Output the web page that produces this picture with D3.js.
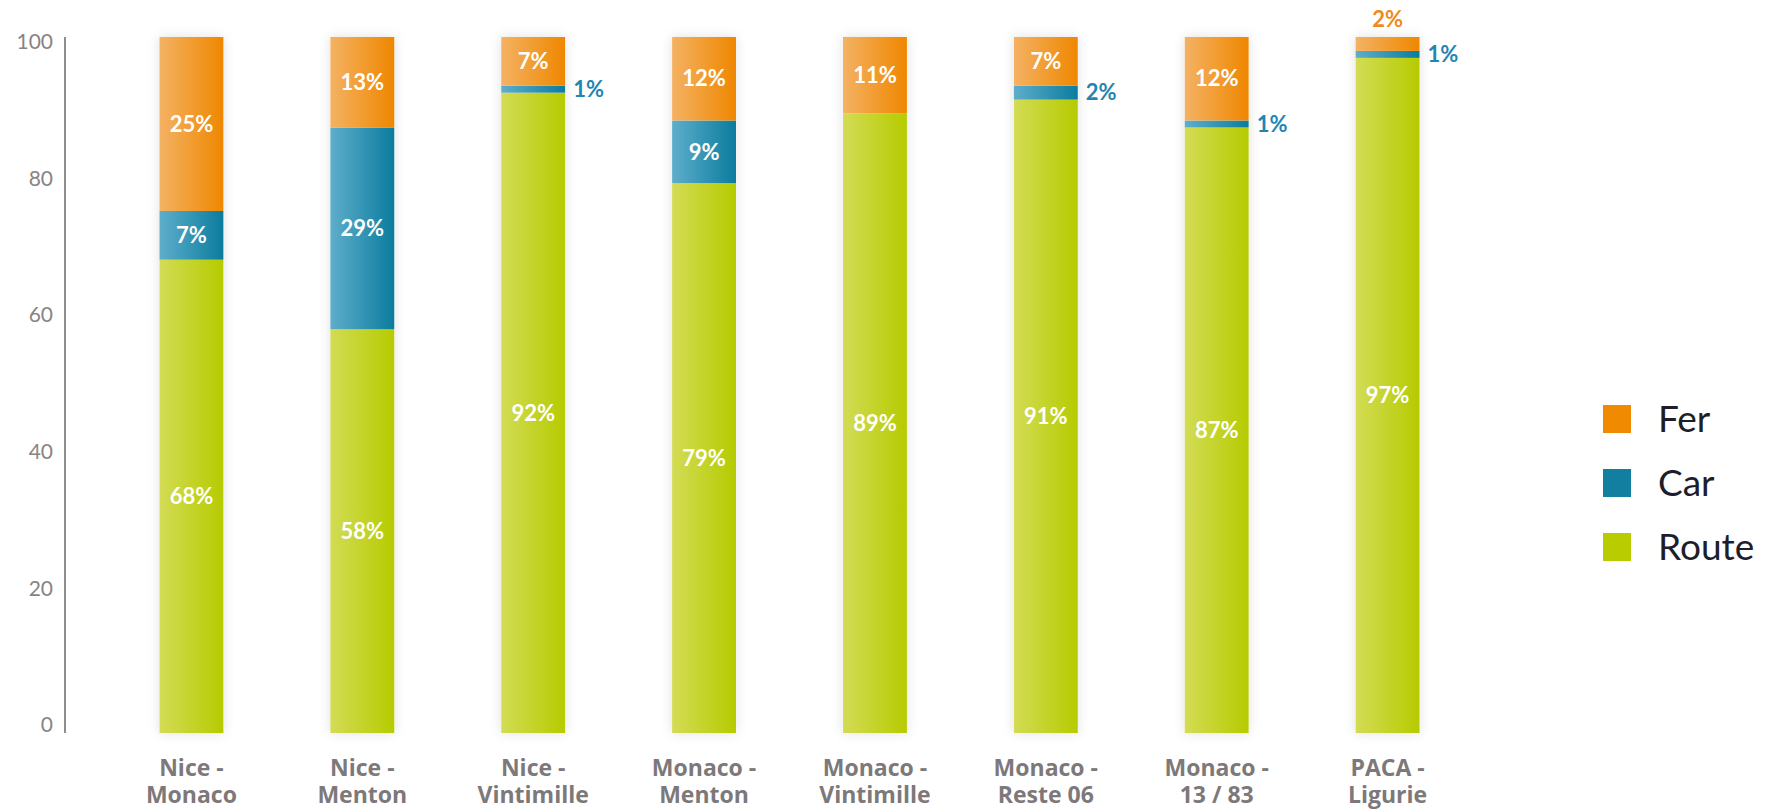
<!DOCTYPE html>
<html>
<head>
<meta charset="utf-8">
<script src="https://cdn.jsdelivr.net/npm/d3@7"></script>
<style>
  body { margin: 0; background: #fff; }
  svg { display: block; }
</style>
</head>
<body>
<div id="chart"></div>
<script>
// categories, one line pair per bar
var categories = ['Nice - Monaco', 'Nice - Menton', 'Nice - Vintimille', 'Monaco - Menton',
    'Monaco - Vintimille', 'Monaco - Reste 06', 'Monaco - 13 / 83', 'PACA - Ligurie'];
var labelLines = [['Nice -', 'Monaco'], ['Nice -', 'Menton'], ['Nice -', 'Vintimille'], ['Monaco -', 'Menton'],
    ['Monaco -', 'Vintimille'], ['Monaco -', 'Reste 06'], ['Monaco -', '13 / 83'], ['PACA -', 'Ligurie']];

// series values (%)
var route = [68, 58, 92, 79, 89, 91, 87, 97];
var car   = [7, 29, 1, 9, 0, 2, 1, 1];
var fer   = [25, 13, 7, 12, 11, 7, 12, 2];

var seriesNames = ['Route', 'Car', 'Fer'];
var yTicks = [0, 20, 40, 60, 80, 100];

var width = 1776;
var height = 809;

var colors = {
    Route: {light: '#d3dc55', dark: '#b6cb00', solid: '#b9cc00'},
    Car:   {light: '#5eaecb', dark: '#0b7c9e', solid: '#127fa1'},
    Fer:   {light: '#f4b263', dark: '#ef8700', solid: '#f08a00'}
};

// build rows for the stack
var rows = categories.map(function (c, i) {
    return {cat: c, Route: route[i], Car: car[i], Fer: fer[i], lines: labelLines[i]};
});
var stacked = d3.stack().keys(seriesNames)(rows);

var svg = d3.select('#chart').append('svg')
    .attr('width', width)
    .attr('height', height);

var defs = svg.append('defs');
seriesNames.forEach(function (s) {
    var g = defs.append('linearGradient')
        .attr('id', 'grad-' + s)
        .attr('x1', '0%').attr('x2', '100%').attr('y1', '0%').attr('y2', '0%');
    g.append('stop').attr('offset', '0%').attr('stop-color', colors[s].light);
    g.append('stop').attr('offset', '100%').attr('stop-color', colors[s].dark);
});
var shadow = defs.append('filter').attr('id', 'shadow')
    .attr('x', '-40%').attr('y', '-10%').attr('width', '180%').attr('height', '120%');
shadow.append('feDropShadow')
    .attr('dx', 0).attr('dy', 0).attr('stdDeviation', 6)
    .attr('flood-color', '#000').attr('flood-opacity', 0.12);

var x = d3.scaleBand()
    .domain(categories)
    .range([106, 1473])
    .paddingInner(0.626)
    .paddingOuter(0.313);

var y = d3.scaleLinear().domain([0, 100]).range([733, 37]);
// tick labels sit slightly inside the bar extent
var yLabel = d3.scaleLinear().domain([0, 100]).range([725, 42]);

// y axis spine
svg.append('line')
    .attr('x1', 65).attr('x2', 65)
    .attr('y1', y(100)).attr('y2', y(0))
    .attr('stroke', '#8e8c8c')
    .attr('stroke-width', 2);

var yAxis = svg.append('g')
    .attr('transform', 'translate(53,0)')
    .call(d3.axisLeft(yLabel).tickValues(yTicks).tickSize(0).tickPadding(0));
yAxis.select('.domain').remove();
yAxis.selectAll('text')
    .attr('fill', '#8a8384')
    .style('font-family', 'Lato, "Open Sans", sans-serif')
    .style('font-size', '21px');

// shadows behind each whole bar
svg.append('g').selectAll('rect')
    .data(rows)
    .join('rect')
    .attr('x', function (d) { return x(d.cat); })
    .attr('width', x.bandwidth())
    .attr('y', y(100))
    .attr('height', y(0) - y(100))
    .attr('fill', '#fff')
    .attr('filter', 'url(#shadow)');

var layers = svg.append('g').selectAll('g')
    .data(stacked)
    .join('g')
    .attr('fill', function (d) { return 'url(#grad-' + d.key + ')'; });

layers.selectAll('rect')
    .data(function (d) { return d; })
    .join('rect')
    .attr('x', function (d) { return x(d.data.cat); })
    .attr('width', x.bandwidth())
    .attr('y', function (d) { return y(d[1]); })
    .attr('height', function (d) { return y(d[0]) - y(d[1]); });

// value labels
var labels = [];
stacked.forEach(function (layer) {
    layer.forEach(function (d) {
        var v = d[1] - d[0];
        if (v <= 0) return;
        labels.push({key: layer.key, v: v, d: d});
    });
});

svg.append('g').selectAll('text')
    .data(labels)
    .join('text')
    .attr('x', function (l) {
        var cx = x(l.d.data.cat) + x.bandwidth() / 2;
        if (l.v >= 5) return cx;
        if (l.key === 'Fer') return cx;
        return x(l.d.data.cat) + x.bandwidth() + 8;
    })
    .attr('y', function (l) {
        if (l.v < 5 && l.key === 'Fer') return y(100) - 18;
        return y((l.d[0] + l.d[1]) / 2);
    })
    .attr('dy', '0.35em')
    .attr('text-anchor', function (l) {
        return (l.v < 5 && l.key !== 'Fer') ? 'start' : 'middle';
    })
    .attr('fill', function (l) {
        if (l.v >= 5) return '#fff';
        return l.key === 'Fer' ? '#f08a1c' : '#1f86b3';
    })
    .style('font-family', 'Lato, "Open Sans", sans-serif')
    .style('font-weight', 'bold')
    .style('font-size', '22px')
    .text(function (l) { return l.v + '%'; });

// category labels
var catG = svg.append('g').selectAll('text')
    .data(rows)
    .join('text')
    .attr('x', function (d) { return x(d.cat) + x.bandwidth() / 2; })
    .attr('y', 776)
    .attr('text-anchor', 'middle')
    .attr('fill', '#7d7879')
    .style('font-family', '"Open Sans", sans-serif')
    .style('font-weight', 'bold')
    .style('font-size', '23px');
catG.selectAll('tspan')
    .data(function (d) { return d.lines; })
    .join('tspan')
    .attr('x', function () { var p = d3.select(this.parentNode).datum(); return x(p.cat) + x.bandwidth() / 2; })
    .attr('dy', function (t, i) { return i === 0 ? 0 : 27; })
    .text(function (t) { return t; });

// legend, Fer on top
var legendKeys = seriesNames.slice().reverse();
var legend = svg.append('g').selectAll('g')
    .data(legendKeys)
    .join('g')
    .attr('transform', function (d, i) { return 'translate(1603,' + (405 + i * 64) + ')'; });
legend.append('rect')
    .attr('width', 28).attr('height', 28)
    .attr('fill', function (d) { return colors[d].solid; });
legend.append('text')
    .attr('x', 55).attr('y', 14).attr('dy', '0.36em')
    .attr('fill', '#1e1e2a')
    .style('font-family', 'Lato, "Open Sans", sans-serif')
    .style('font-size', '37px')
    .text(function (d) { return d; });
</script>
</body>
</html>
